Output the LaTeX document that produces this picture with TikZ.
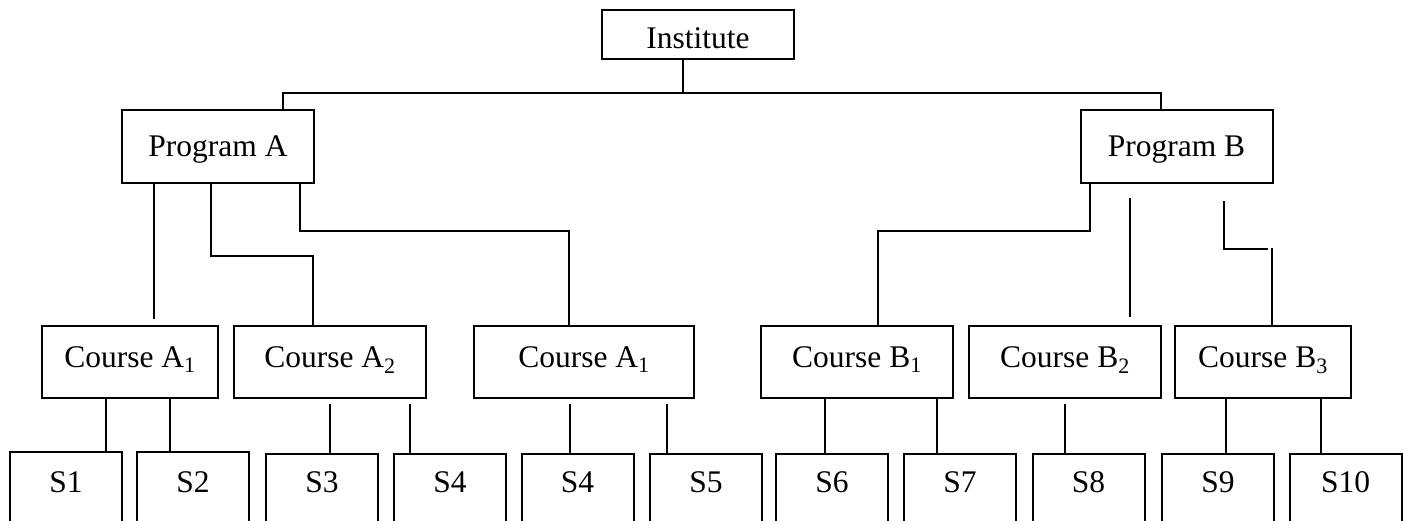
\documentclass[tikz,border=0pt]{standalone}
\usepackage{fontspec}
\setmainfont{Liberation Serif}
\tikzset{
	box/.style={shape=rectangle, draw, line width=2pt, inner sep=0pt, anchor=base, font=\fontsize{31.5}{38}\selectfont},
	instbox/.style={box, minimum width=192pt, text height=39pt, text depth=10pt},
	progbox/.style={box, minimum width=192pt, text height=47pt, text depth=26pt},
	coursebox/.style={box, text height=41pt, text depth=31pt},
	studbox/.style={box, minimum width=112pt, text height=38pt, text depth=60pt},
	wire/.style={line width=1.6pt},
	trunk/.style={line width=2.2pt}
}
\begin{document}
\begin{tikzpicture}[x=1pt, y=-1pt]
	\clip (0,0) rectangle (1403,521);
	% Paths, nodes and wires:
	\node[instbox] (inst) at (698,49) {Institute};
	\node[progbox] (pa) at (218,157) {Program A};
	\node[progbox] (pb) at (1176.5,157) {Program B};
	\node[coursebox, minimum width=176pt] (ca1) at (130,367) {Course A\textsubscript{1}};
	\node[coursebox, minimum width=192pt] (ca2) at (330,367) {Course A\textsubscript{2}};
	\node[coursebox, minimum width=220pt] (ca3) at (584,367) {Course A\textsubscript{1}};
	\node[coursebox, minimum width=192pt] (cb1) at (857,367) {Course B\textsubscript{1}};
	\node[coursebox, minimum width=192pt] (cb2) at (1065,367) {Course B\textsubscript{2}};
	\node[coursebox, minimum width=176pt] (cb3) at (1263,367) {Course B\textsubscript{3}};
	\node[studbox, text height=40pt] (s1) at (66,492) {S1};
	\node[studbox, text height=40pt] (s2) at (193,492) {S2};
	\node[studbox] (s3) at (322,492) {S3};
	\node[studbox] (s4) at (450,492) {S4};
	\node[studbox] (s4b) at (577.5,492) {S4};
	\node[studbox] (s5) at (706,492) {S5};
	\node[studbox] (s6) at (832,492) {S6};
	\node[studbox] (s7) at (960,492) {S7};
	\node[studbox] (s8) at (1088.5,492) {S8};
	\node[studbox] (s9) at (1218,492) {S9};
	\node[studbox] (s10) at (1345.5,492) {S10};
	\coordinate (hub) at (683,93);
	\coordinate (hubA) at (283,93);
	\coordinate (hubB) at (1161,93);
	\draw[trunk] (inst.south -| hub) -- (hub);
	\draw[trunk] (pa.north -| hubA) -- (hubA) -- (hubB) -- (pb.north -| hubB);
	\draw[wire] ([xshift=-64pt]pa.south) -- ++(0,135);
	\draw[wire] ([xshift=-7pt]pa.south) -- ++(0,72) -| ([xshift=-17pt]ca2.north);
	\draw[wire] ([xshift=82pt]pa.south) -- ++(0,47) -| ([xshift=-15pt]ca3.north);
	\draw[wire] ([xshift=-86.5pt]pb.south) -- ++(0,47) -| ([xshift=21pt]cb1.north);
	\draw[wire] ([xshift=-46.5pt,yshift=-14pt]pb.south) -- ([xshift=65pt,yshift=8pt]cb2.north);
	\draw[wire] ([xshift=47.5pt,yshift=-17pt]pb.south) -- ++(0,48) -- ++(44,0);
	\draw[wire] ([xshift=9pt]cb3.north) -- ++(0,-77);
	\draw[wire] ([xshift=-24pt]ca1.south) -- ++(0,54);
	\draw[wire] ([xshift=40pt]ca1.south) -- ++(0,54);
	\draw[wire] ([yshift=-5pt]ca2.south) -- ++(0,51);
	\draw[wire] ([xshift=80pt,yshift=-5pt]ca2.south) -- ++(0,51);
	\draw[wire] ([xshift=-14pt,yshift=-5pt]ca3.south) -- ++(0,51);
	\draw[wire] ([xshift=83pt,yshift=-5pt]ca3.south) -- ++(0,51);
	\draw[wire] ([xshift=-32pt]cb1.south) -- ++(0,56);
	\draw[wire] ([xshift=80pt]cb1.south) -- ++(0,56);
	\draw[wire] ([yshift=-5pt]cb2.south) -- ++(0,51);
	\draw[wire] ([xshift=-37pt]cb3.south) -- ++(0,56);
	\draw[wire] ([xshift=58pt]cb3.south) -- ++(0,56);
\end{tikzpicture}
\end{document}
